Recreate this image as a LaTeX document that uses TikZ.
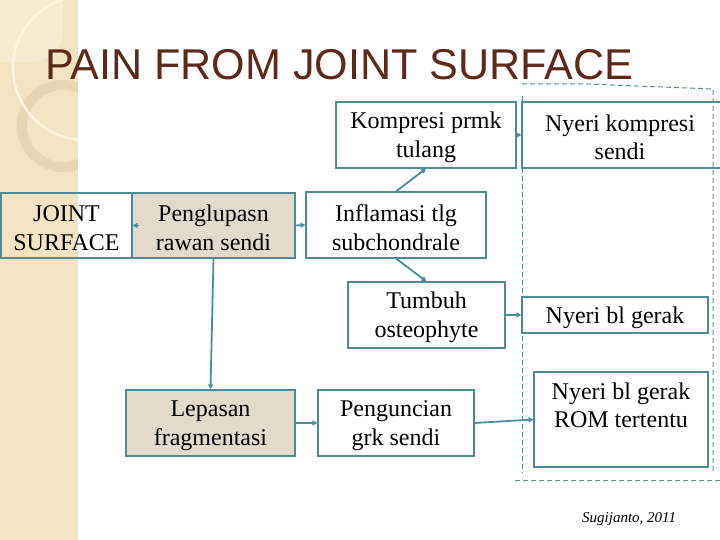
\documentclass[tikz,border=0pt]{standalone}
\usepackage{fontspec}
\setmainfont{Liberation Serif}
\newfontfamily\titlefont{Liberation Sans}
\usetikzlibrary{arrows.meta}
\definecolor{stripc}{HTML}{F2E3C2}
\definecolor{stripl}{HTML}{F6EBD0}
\definecolor{ringc}{HTML}{E6D6B3}
\definecolor{arcc}{HTML}{FBF4DF}
\definecolor{titlec}{HTML}{5B2A1B}
\definecolor{boxc}{HTML}{4F8B95}
\definecolor{arrc}{HTML}{4A8E9C}
\definecolor{dashc}{HTML}{5D8F98}
\definecolor{boxfill}{HTML}{E2DACB}
\tikzset{
  box/.style={draw=boxc, line width=1.1pt, inner sep=0pt},
  shaded/.style={fill=boxfill},
  plain/.style={fill=white},
  clear/.style={},
  txt/.style={inner sep=0pt, align=center, font=\fontsize{24}{28.5}\selectfont},
  arr/.style={draw=arrc, line width=1.8pt, -{Triangle[length=5pt,width=5pt]}},
  dashbox/.style={draw=dashc, line width=1pt, dash pattern=on 5pt off 3pt},
}
% \bx{name}{x}{y}{w}{h}{style}{text}
\newcommand\bx[7]{%
  \node[box,#6,minimum width=#4pt,minimum height=#5pt] (#1) at (#2,#3) {};
  \node[txt] (#1t) at ([yshift=-2.5pt]#1.center) {#7};}
\begin{document}
\begin{tikzpicture}[x=1pt,y=-1pt]
\useasboundingbox (0,0) rectangle (720,540);
\fill[white] (0,0) rectangle (720,540);
% left strip with decorations
\fill[stripc] (0,0) rectangle (78,540);
\begin{scope}
  \clip (0,0) rectangle (78,540);
  \fill[stripl] (0,0) -- (63,0) -- (63,30) arc[start angle=0, end angle=90, radius=32] -- (0,62) -- cycle;
  \draw[ringc, line width=10pt] (63,126) circle[radius=41];
  \draw[arcc, line width=2.5pt] (85,68) circle[radius=72];
\end{scope}
% title
\node[anchor=base west, inner sep=0pt, text=titlec,
      font=\titlefont\fontsize{43.1}{50}\selectfont] (title) at (45,80) {PAIN FROM JOINT SURFACE};
% dashed outlines
\draw[dashbox] (522,96) -- (522,473);
\draw[dashbox] (522,84) -- (587,84) -- (713,89) -- (713,473);
\draw[dashbox] (515,480) -- (722,480);
% boxes
\bx{js}{66.5}{225.5}{131}{65}{clear}{JOINT\\SURFACE}
\bx{pen}{213.5}{225.5}{163}{65}{shaded}{Penglupasn\\rawan sendi}
\bx{inf}{396}{225}{180}{66}{plain}{Inflamasi tlg\\subchondrale}
\bx{kom}{426}{135}{180}{66}{plain}{Kompresi prmk\\tulang}
\node[box, minimum width=200pt, minimum height=66pt] (nk) at (622,135) {};
\node[txt] (nkt) at (620,137.5) {Nyeri kompresi\\sendi};
\bx{tum}{426.5}{315}{157}{66}{plain}{Tumbuh\\osteophyte}
\bx{nbg}{615}{315}{186}{36}{plain}{Nyeri bl gerak}
\bx{lep}{210.5}{423}{169}{66}{shaded}{Lepasan\\fragmentasi}
\bx{pgc}{396}{423}{156}{66}{plain}{Penguncian\\grk sendi}
\node[box, fill=white, minimum width=174pt, minimum height=95pt] (rom) at (621,419.5) {};
\node[txt] (romt) at (621,405.5) {Nyeri bl gerak\\ROM tertentu};
% connectors
\draw[arr] ([xshift=8pt]pen.west) -- (js.east);
\draw[arr] (pen.east) -- (inf.west);
\draw[arr] (inf.north) -- (kom.south);
\draw[arr] (inf.south) -- (tum.north);
\draw[arr] ([xshift=-2pt]kom.east) -- (nk.west);
\draw[arr] (tum.east) -- (nbg.west);
\draw[arr] (pen.south) -- (lep.north);
\draw[arr] (lep.east) -- (pgc.west);
\draw[arr] (pgc.east) -- (rom.west);
% credit
\node[anchor=base west, inner sep=0pt, font=\itshape\fontsize{15}{18}\selectfont] (cred) at (582,522) {Sugijanto, 2011};
\end{tikzpicture}
\end{document}
